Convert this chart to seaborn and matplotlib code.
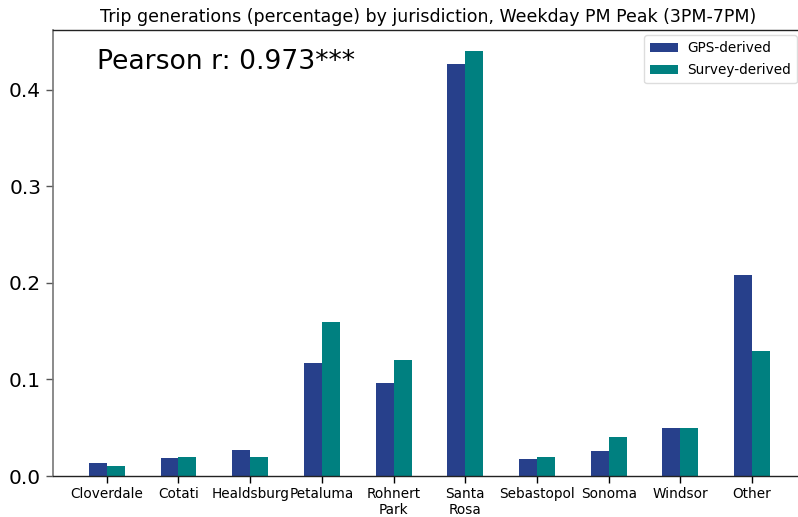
import matplotlib
matplotlib.use("Agg")
import matplotlib.pyplot as plt
import seaborn as sns
import pandas as pd

jurisdictions = ["Cloverdale", "Cotati", "Healdsburg", "Petaluma", "Rohnert\nPark",
                 "Santa\nRosa", "Sebastopol", "Sonoma", "Windsor", "Other"]
gps_share = [0.0135, 0.019, 0.027, 0.117, 0.096, 0.427, 0.0176, 0.026, 0.050, 0.208]
survey_share = [0.010, 0.020, 0.020, 0.160, 0.120, 0.440, 0.020, 0.040, 0.050, 0.130]
series_names = ["GPS-derived", "Survey-derived"]
series_colors = ["#27408B", "#008080"]
y_ticks = [0.0, 0.1, 0.2, 0.3, 0.4]

df = pd.DataFrame({
    "jurisdiction": jurisdictions * 2,
    "share": gps_share + survey_share,
    "source": [series_names[0]] * len(jurisdictions) + [series_names[1]] * len(jurisdictions),
})

sns.set_style("white")
plt.rcParams["font.family"] = ["DejaVu Sans"]
plt.rcParams["text.color"] = "black"
plt.rcParams["xtick.color"] = "black"
plt.rcParams["ytick.color"] = "black"
plt.rcParams["axes.labelcolor"] = "black"

fig = plt.figure(figsize=(7.98, 5.17), dpi=100)
ax = fig.add_axes([53 / 798, 1 - 476 / 517, (803 - 53) / 798, (476 - 30) / 517])

sns.barplot(data=df, x="jurisdiction", y="share", hue="source",
            palette=series_colors, width=0.5, saturation=1, ax=ax,
            errorbar=None, legend=True, linewidth=0)

ax.set_xlim(-0.75, 9.71)
ax.set_ylim(0, 0.462)
ax.set_yticks(y_ticks)
ax.set_yticklabels([f"{t:.1f}" for t in y_ticks], fontsize=14.5)
ax.tick_params(axis="x", labelsize=9.8, length=5, width=1, color="black", bottom=True, pad=3)
ax.tick_params(axis="y", length=5, width=1, color="#555555", left=True)
ax.set_xlabel("")
ax.set_ylabel("")

for side in ["top", "bottom"]:
    ax.spines[side].set_color("#222222")
    ax.spines[side].set_linewidth(1.0)
ax.spines["right"].set_visible(False)
ax.spines["left"].set_color("#777777")
ax.spines["left"].set_linewidth(1.2)

ax.set_title("Trip generations (percentage) by jurisdiction, Weekday PM Peak (3PM-7PM)",
             fontsize=12.5, pad=6, color="black")

ax.text(97 / 798, 1 - 62 / 517, "Pearson r: 0.973***", transform=fig.transFigure,
        fontsize=19.2, va="center", ha="left", color="black")

handles, labels = ax.get_legend_handles_labels()
leg = ax.legend(handles, labels, loc="upper right", bbox_to_anchor=(797 / 798, 1 - 35 / 517),
                bbox_transform=fig.transFigure, fontsize=9.8, frameon=True, framealpha=1,
                edgecolor="#dddddd", fancybox=True, borderaxespad=0, borderpad=0.45,
                labelspacing=0.6, handletextpad=0.7)
for t in leg.get_texts():
    t.set_color("black")

fig.savefig("out.png", dpi=100)
